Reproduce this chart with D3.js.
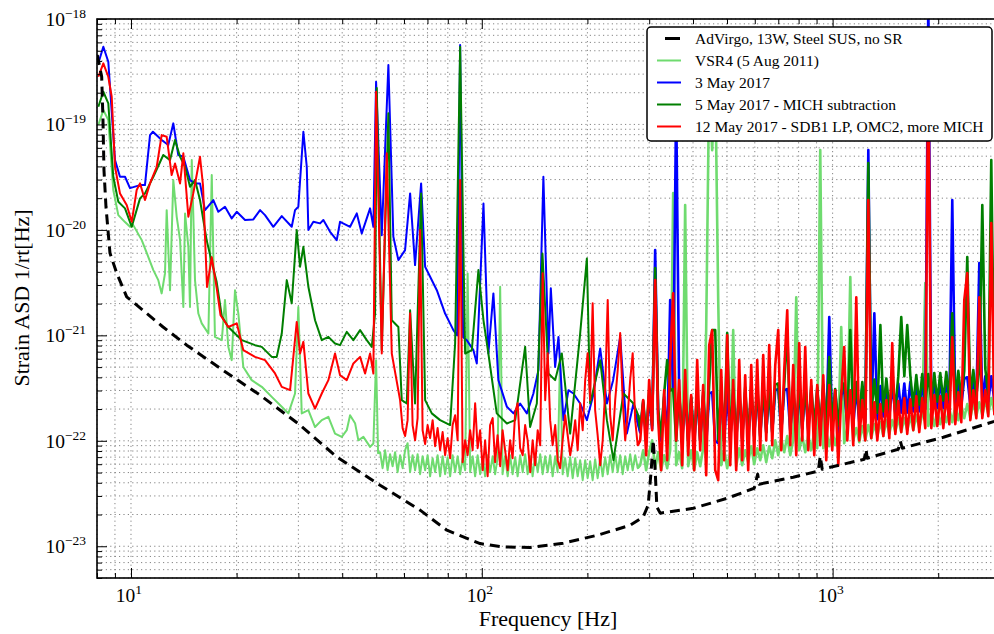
<!DOCTYPE html>
<html>
<head>
<meta charset="utf-8">
<script src="https://cdn.jsdelivr.net/npm/d3@7"></script>
<style>
  body { margin: 0; background: #fff; }
  svg { display: block; }
  text { font-family: "Liberation Serif", "DejaVu Serif", serif; fill: #000; }
</style>
</head>
<body>
<svg id="chart" width="994" height="634"></svg>
<script>
// Strain amplitude spectral densities. ASD values are in units of 1e-22 /sqrt(Hz).
const UNIT = 1e-22;

// AdVirgo design sensitivity (13 W, steel suspensions, no signal recycling): [Hz, ASD]
const advirgo = [[8.015,4553],[8.25,2835],[8.32,1101],[8.375,369],[8.486,165],[8.711,60.3],[9.104,38.9],[9.722,23.2],[10.82,17.3],[12.34,12.0],[14.42,8.07],[17.94,4.88],[23.33,2.71],[30.33,1.41],[38.59,0.704],[51.29,0.379],[66.70,0.220],[79.49,0.142],[98.89,0.106],[115.0,0.0985],[137.3,0.0972],[170.6,0.107],[213.2,0.127],[264.8,0.158],[288.4,0.190],[298.0,0.245],[304.0,0.526],[308.0,1.01],[312.0,0.526],[315.5,0.236],[322.5,0.206],[400.5,0.229],[500.6,0.285],[597.7,0.355],[611.5,0.482],[617.6,0.388],[772.2,0.452],[909.9,0.515],[922.0,0.714],[934.1,0.538],[1199,0.655],[1231,0.669],[1245,0.832],[1255,0.684],[1539,0.832],[1560,0.991],[1579,0.851],[2068,1.08],[2890,1.53],[3003,1.61]];

// Low-frequency part of each measured spectrum (below ~280 Hz): [Hz, ASD]
const vsr4Low = [[8.07,987],[8.34,1369],[8.616,1101],[8.902,239],[9.201,138],[9.614,118.6],[9.934,107],[10.15,111],[10.73,80],[11.20,55.6],[11.58,41.6],[11.96,33.4],[12.23,25.0],[12.50,38.7],[12.64,154],[12.92,26.8],[13.20,297],[13.50,133],[13.80,80],[14.10,18.6],[14.26,143],[14.57,69.1],[14.73,18.6],[14.90,459],[15.05,143],[15.22,33.4],[15.56,16.1],[15.91,13.0],[16.62,10.4],[16.99,331],[17.35,9.67],[18.15,9.0],[18.53,21.6],[18.94,7.78],[19.37,5.82],[19.79,26.8],[20.23,16.1],[20.90,5.02],[22.08,3.76],[23.59,3.25],[25.19,2.61],[26.90,2.10],[28.09,1.82],[29.35,2.81],[29.99,18.6],[30.67,1.82],[32.03,1.95],[33.47,1.35],[34.98,1.57],[36.53,1.69],[38.16,1.17],[39.89,1.09],[41.21,1.26],[42.12,1.75],[43.52,1.47],[44.48,1.01],[45.97,1.09],[48.03,0.875],[49.08,0.943],[49.96,5.82],[50.62,0.763],
  [51.29,0.78],[52.14,0.55],[53.00,0.814],[53.88,0.526],[54.77,0.746],[55.68,0.574],[56.60,0.78],[57.54,0.504],[58.49,0.73],[59.46,0.55],[60.44,0.814],[61.44,0.949],[62.46,0.504],[63.49,0.73],[64.54,0.526],[65.61,0.746],[66.70,0.482],[67.80,0.714],[68.93,0.526],[70.07,0.73],[71.23,0.461],[72.41,0.684],[73.61,0.504],[74.82,0.73],[76.06,0.461],[77.32,0.714],[78.60,0.482],[79.90,0.699],[81.23,0.461],[82.57,0.73],[83.94,0.504],[85.33,0.714],[86.74,0.482],[88.17,0.684],[89.63,0.526],[91.12,38.7],[92.63,0.504],[94.16,0.714],[95.72,0.461],[97.30,0.73],[98.91,0.482],[100.6,0.699],[102.2,0.461],[103.9,0.73],[105.6,0.504],[107.4,0.714],[109.1,0.482],[110.9,0.684],[112.8,28.9],[114.6,0.482],[116.5,0.714],[118.5,0.461],[120.4,0.73],[122.4,0.482],[124.5,0.699],[126.5,0.461],[128.6,0.73],[130.8,0.504],[132.9,0.746],[135.1,0.482],[137.4,0.714],[139.6,0.461],[141.9,0.73],[144.3,0.504],[146.7,0.746],[149.1,0.482],[151.6,0.714],[154.1,0.504],[156.6,0.73],[159.2,0.461],[161.9,0.714],[164.5,0.504],[167.2,6.73],[170.0,0.482],[172.8,0.684],[175.7,0.461],[178.6,0.699],[181.6,0.442],[184.6,0.684],[187.6,0.461],[190.7,0.655],[193.9,0.423],[197.1,0.655],[200.3,0.442],[203.6,0.64],[207.0,0.423],[210.4,0.669],[213.9,0.442],[217.5,0.684],[221.1,0.461],[224.7,0.699],[228.5,0.482],[232.2,0.73],[236.1,0.504],[240.0,0.746],[244.0,0.504],[248.0,0.73],[252.1,0.482],[256.3,0.714],[260.5,0.526],[264.8,0.746],[269.2,0.526],[273.7,0.73],[278.2,0.55]];

const may3Low = [[8.07,3799],[8.34,5461],[8.616,3935],[9.003,459],[9.303,319],[9.614,319],[9.934,249],[10.61,266],[10.96,266],[11.33,793],[11.55,853],[12.23,711],[12.77,638],[13.20,1024],[13.64,513],[14.10,494],[14.73,297],[15.22,276],[15.73,276],[16.25,154],[17.17,192],[17.74,148.5],[18.53,165.7],[19.37,128.5],[20.02,148.5],[21.14,124],[22.32,125.8],[23.33,154],[24.10,138.1],[25.45,107],[26.90,135.2],[28.72,107],[29.35,154],[29.99,165.7],[31.00,853],[31.70,397],[32.03,99.6],[33.10,119.4],[34.59,115.3],[35.35,124],[36.94,95.9],[38.59,80],[39.44,119.4],[42.12,107],[44.02,143.4],[45.48,92.6],[48.03,160],[49.08,107],[49.96,2541],[51.86,89],[54.16,3660],[55.96,86],[57.83,51.7],[60.43,64.3],[62.46,222],[64.52,46.4],[67.14,276],[68.93,44.7],[71.23,35.9],[74.43,26.8],[78.60,16.1],[82.98,11.2],[85.04,10.0],[86.74,5667],[88.45,9.61],[90.63,9.0],[94.65,7.24],[96.77,5.41],[101.1,178],[104.4,6.73],[107.9,25.0],[111.5,3.76],[117.9,2.10],[123.1,1.82],[128.6,2.26],[134.4,1.82],[140.3,2.81],[145.0,4.68],[149.8,319],[154.9,6.73],[157.3,27.9],[161.8,5.02],[165.4,9.67],[170.9,1.57],[176.6,3.02],[182.5,2.81],[190.7,2.26],[199.3,1.57],[207.7,2.71],[217.5,7.51],[227.3,2.26],[236.8,3.76],[248.0,9.67],[259.1,1.17],[270.6,2.26],[277.3,1.57]];

const may5Low = [[8.07,1472],[8.34,2043],[8.616,1586],[8.902,319],[9.201,184.8],[9.614,160],[10.05,107],[10.61,199],[10.96,222],[11.58,319],[12.36,513],[12.92,459],[13.35,711],[13.80,494],[14.26,397],[14.73,256],[15.22,297],[15.73,192],[16.43,80],[16.99,49.5],[17.55,32.0],[18.15,15.2],[18.94,12.0],[19.79,10.4],[20.69,9.0],[22.57,8.07],[23.59,7.78],[25.19,6.25],[26.03,6.25],[26.90,10.4],[27.80,33.4],[28.72,20.1],[29.68,99.6],[30.33,44.7],[31.00,69.1],[32.03,28.9],[33.47,13.9],[34.98,9.0],[36.53,9.67],[38.16,8.38],[39.44,8.07],[41.21,10.8],[43.04,9.0],[44.98,11.2],[47.00,9.0],[48.57,7.78],[49.63,16.1],[50.19,2215],[51.86,7.24],[54.16,1275],[55.38,13.9],[57.83,12.0],[59.13,2.43],[61.10,2.26],[62.46,17.3],[64.52,2.26],[67.14,222],[68.93,2.43],[72.02,1.82],[76.06,1.57],[81.23,1.41],[83.93,8.38],[86.74,5461],[89.62,6.73],[93.66,7.24],[97.79,41.6],[101.1,13.9],[104.4,6.73],[110.3,1.82],[117.9,1.46],[124.5,1.57],[132.9,7.78],[137.3,1.35],[143.5,2.26],[148.9,59.8],[154.9,4.35],[161.8,3.76],[169.1,6.73],[178.6,1.17],[190.7,10.4],[199.3,53.6],[203.6,2.26],[217.5,5.82],[227.3,1.57],[237.3,0.655],[253.3,2.81],[270.6,2.26],[279.1,1.75]];

const may12Low = [[8.07,2835],[8.34,3799],[8.616,2835],[8.811,1831],[9.003,397],[9.303,222],[9.722,172],[10.05,119.4],[10.38,239],[10.61,276],[10.96,192],[11.33,276],[11.84,397],[12.23,793],[12.64,764],[13.06,331],[13.35,427],[13.80,276],[14.10,532],[14.57,133.2],[15.05,222],[15.73,494],[16.04,266],[16.47,28.7],[16.99,55.2],[17.55,28.0],[18.00,15.5],[18.94,12.0],[20.02,13.0],[20.90,7.24],[22.57,6.25],[24.10,5.82],[25.74,4.35],[26.90,3.25],[28.41,3.02],[29.68,13.4],[30.33,6.73],[31.00,8.68],[32.03,2.81],[33.47,2.02],[34.98,2.81],[36.53,3.76],[38.16,6.73],[39.44,4.19],[41.21,3.76],[43.04,5.41],[44.98,6.25],[46.48,4.35],[48.03,6.73],[49.08,4.35],[49.96,2043],[51.86,6.73],[53.59,532],[55.38,6.73],
  [58.49,2.43],[59.46,1.32],[60.44,1.11],[61.44,1.57],[62.46,16.2],[63.49,1.41],[64.54,1.01],[65.61,1.64],[66.70,99.6],[67.80,1.26],[68.93,0.929],[70.07,1.41],[71.23,1.06],[72.41,1.57],[73.61,0.889],[74.82,1.32],[76.06,0.814],[77.32,1.21],[78.60,0.73],[79.90,1.06],[81.23,0.684],[82.57,1.41],[83.94,1.75],[85.33,1.01],[86.74,297],[88.17,0.627],[89.63,1.01],[91.12,0.73],[92.63,1.26],[94.16,0.814],[95.72,2.27],[97.30,0.851],[98.91,1.26],[100.6,0.526],[102.2,1.01],[103.9,0.461],[105.6,1.41],[107.4,1.64],[109.1,0.627],[110.9,1.13],[112.8,0.574],[114.6,1.26],[116.5,0.814],[118.5,0.526],[120.4,1.01],[122.4,0.684],[124.5,1.87],[126.5,2.27],[128.6,0.851],[130.8,0.73],[132.9,1.41],[135.1,1.01],[137.4,0.504],[139.6,1.01],[141.9,0.587],[144.3,1.26],[146.7,0.908],[149.1,38.9],[151.6,2.43],[154.1,6.78],[156.6,1.57],[159.2,0.908],[161.9,1.41],[164.5,0.655],[167.2,0.55],[170.0,1.01],[172.8,1.75],[175.7,1.13],[178.6,0.73],[181.6,1.01],[184.6,1.57],[187.6,0.814],[190.7,2.27],[193.9,1.26],[197.1,3.76],[200.3,6.78],[203.6,2.43],[207.0,20.2],[210.4,1.95],[213.9,1.13],[217.5,0.587],[221.1,1.01],[224.7,3.02],[228.5,21.6],[232.2,1.75],[236.1,1.01],[240.0,2.43],[244.0,4.68],[248.0,10.5],[252.1,2.43],[256.3,1.01],[260.5,1.75],[264.8,3.76],[269.2,6.78],[273.7,1.57],[278.2,0.908]];

// High-frequency part: shared frequency bins (Hz) and ASD of each spectrum in those bins
const hfFreq = [282.8,288.4,294.1,299.9,305.9,312.0,318.2,324.5,331.0,337.6,
  344.3,351.1,358.1,365.2,372.5,379.9,387.5,395.2,403.0,411.1,
  419.3,427.6,436.1,444.8,453.6,462.7,471.9,481.3,490.8,500.6,
  510.6,520.7,531.1,541.7,552.4,563.4,574.6,586.1,597.7,609.6,
  621.8,634.1,646.8,659.6,672.8,686.2,699.8,713.7,727.9,742.4,
  757.2,772.2,787.6,803.2,819.2,835.5,852.2,869.1,886.4,904.0,
  922.0,940.4,959.1,978.2,997.5,1017,1038,1058,1079,1101,
  1123,1145,1168,1191,1215,1239,1264,1289,1315,1341,
  1368,1395,1423,1451,1479,1509,1539,1569,1601,1632,
  1665,1698,1732,1766,1801,1837,1874,1911,1949,1988,
  2027,2068,2109,2151,2193,2237,2282,2327,2373,2420,
  2469,2518,2568,2619,2671,2724,2778,2833,2890,2948];

const vsr4High = [0.587,0.814,0.526,0.78,1.01,0.55,0.78,0.526,0.73,0.55,
  0.814,223,0.587,0.78,0.55,172,0.574,0.814,0.526,0.78,
  0.574,0.851,11.2,2634,571,3277,21.6,0.587,0.814,0.55,
  0.78,11.2,0.574,0.851,0.587,0.814,0.627,0.889,0.60,0.851,
  0.655,0.908,0.627,0.889,0.684,1.01,0.73,1.06,0.78,1.11,
  0.73,1.01,23.0,0.814,1.11,0.78,1.13,0.814,1.21,0.851,
  571,0.851,1.21,0.889,1.26,0.908,1.26,12.0,0.949,1.32,
  35.7,1.01,1.32,0.97,1.38,1.01,1.41,1.06,1.44,1.11,
  1.50,1.11,1.57,1.16,1.57,1.21,1.64,1.21,1.64,1.26,
  1.71,1.26,1.75,1.32,1.79,31.3,1.38,1.87,1.38,1.95,
  1.44,1.95,1.50,2.04,1.50,2.13,1.57,2.18,1.64,2.23,
  1.64,2.32,1.71,2.32,1.75,2.43,1.79,2.54,1.87,2.54];

const may3High = [1.2,2.3,1.0,2.7,1.3,64.3,1.8,1.0,2.6,1.0,
  21.6,3.0,1703,2.8,0.95,2.8,1.0,2.5,0.9,2.8,
  1.0,2.7,0.9,2.8,2.9,1.0,0.95,2.8,1.0,2.9,
  1.0,2.8,1.0,2.9,1.05,2.9,1.0,2.9,1.1,3.0,
  1.1,3.0,1.2,3.0,1.2,3.0,3.1,1.2,3.0,3.1,
  1.25,3.0,1.2,3.1,1.3,3.1,1.25,3.0,1.2,3.0,
  1.3,3.1,1.2,14.9,1.3,3.0,1.2,2.7,3.1,1.4,
  3.0,1.4,3.2,1.5,3.2,1.5,571,1.55,16.2,1.6,
  3.3,1.7,3.4,1.7,3.4,1.8,3.5,1.85,3.5,1.85,
  3.6,1.9,3.6,1.9,3.6,2.0,15000,2.0,3.7,2.05,
  3.7,2.05,3.8,2.1,192,2.1,3.9,2.15,3.9,4.0,
  2.2,4.0,2.25,48.4,2.3,4.1,2.35,4.1,2.4,4.2];

const may5High = [1.3,2.4,1.1,3.0,1.4,43.4,2.0,1.1,2.8,5.82,
  3.0,3.1,1.0,2.9,1.0,3.0,1.0,2.6,0.95,3.0,
  1.0,2.9,0.95,3.4,11.2,11.2,1.0,3.0,1.0,10.5,
  1.0,3.1,1.0,3.2,1.05,3.2,1.05,3.3,1.1,3.4,
  1.1,3.4,1.2,3.4,1.2,3.4,3.5,1.2,3.4,11.2,
  1.25,3.3,1.25,3.4,1.3,3.4,1.3,3.3,1.3,3.2,
  1.35,3.4,1.3,6.21,1.4,3.1,1.4,2.9,3.5,1.5,
  11.2,1.6,3.6,1.7,3.6,1.75,430,1.8,3.8,1.85,
  12.5,1.9,3.9,1.95,4.0,2.0,4.1,14.9,4.1,12.5,
  4.2,2.15,4.2,2.2,4.3,2.3,4.3,2.3,4.4,2.35,
  4.4,2.4,4.5,2.45,16.2,2.5,4.6,2.5,4.6,55.2,
  2.6,4.7,2.65,4.8,172,4.8,2.75,459,2.8,5.0];

const may12High = [1.01,2.43,0.73,3.76,1.26,33.4,1.57,0.526,3.02,0.655,
  5.82,25.1,1.01,3.76,0.587,4.68,0.73,2.71,0.526,5.82,
  0.814,3.37,0.472,8.07,11.2,0.526,0.423,4.68,0.655,10.0,
  0.587,3.76,0.526,5.82,0.655,4.19,0.526,5.22,0.73,5.82,
  0.814,6.49,1.01,8.07,0.908,5.22,11.2,0.814,4.68,17.3,
  0.908,5.22,0.73,8.43,1.01,7.73,0.814,3.76,0.73,3.37,
  0.908,4.19,0.655,3.37,0.814,3.02,0.587,2.71,7.73,1.01,
  3.02,0.908,23.0,1.01,2.43,1.01,192,1.06,2.32,1.01,
  2.23,1.11,2.43,1.06,8.43,1.16,2.38,1.21,2.54,1.16,
  2.48,1.26,2.65,1.21,2.54,1.32,4076,1.32,2.71,1.38,
  2.65,1.32,2.77,1.44,9.61,1.44,2.89,1.50,21.6,38.9,
  1.57,3.02,1.64,23.0,1.64,3.02,1.71,116,1.79,3.16];

// Axis ticks
const xMajorTicks = [10, 100, 1000];
const xMinorTicks = [8, 9, 20, 30, 40, 50, 60, 70, 80, 90, 200, 300, 400, 500, 600, 700, 800, 900, 2000, 3000];
const xTickExps = ["1", "2", "3"];
const yMajorTicks = [1e-18, 1e-19, 1e-20, 1e-21, 1e-22, 1e-23];
const yMinorTicks = [5e-24, 6e-24, 7e-24, 8e-24, 9e-24,
  2e-23, 3e-23, 4e-23, 5e-23, 6e-23, 7e-23, 8e-23, 9e-23,
  2e-22, 3e-22, 4e-22, 5e-22, 6e-22, 7e-22, 8e-22, 9e-22,
  2e-21, 3e-21, 4e-21, 5e-21, 6e-21, 7e-21, 8e-21, 9e-21,
  2e-20, 3e-20, 4e-20, 5e-20, 6e-20, 7e-20, 8e-20, 9e-20,
  2e-19, 3e-19, 4e-19, 5e-19, 6e-19, 7e-19, 8e-19, 9e-19];
const yTickExps = ["\u221218", "\u221219", "\u221220", "\u221221", "\u221222", "\u221223"];

const legendLabels = ["AdVirgo, 13W, Steel SUS, no SR", "VSR4 (5 Aug 2011)", "3 May 2017",
  "5 May 2017 - MICH subtraction", "12 May 2017 - SDB1 LP, OMC2, more MICH"];
const seriesColors = ["#000000", "#6fdb6f", "#0000ff", "#007f00", "#ff0000"];

// ---- layout & scales ----
const plot = { left: 97, right: 1000, top: 19, bottom: 578 };
const svg = d3.select("#chart");
const x = d3.scaleLog().domain([8, 3000]).range([plot.left, plot.right]);
const y = d3.scaleLog().domain([5e-24, 1e-18]).range([plot.bottom, plot.top]);

svg.append("defs").append("clipPath").attr("id", "plot-clip")
  .append("rect").attr("x", plot.left).attr("y", plot.top)
  .attr("width", plot.right - plot.left).attr("height", plot.bottom - plot.top);

// ---- dotted grid (major + minor) ----
const grid = svg.append("g").attr("class", "grid")
  .attr("stroke", "#333").attr("stroke-width", 0.8)
  .attr("stroke-dasharray", "1.2,3.2").attr("opacity", 0.75);
grid.selectAll("line.gx").data(xMajorTicks.concat(xMinorTicks)).join("line")
  .attr("x1", d => x(d)).attr("x2", d => x(d))
  .attr("y1", plot.top).attr("y2", plot.bottom);
grid.selectAll("line.gy").data(yMajorTicks.concat(yMinorTicks)).join("line")
  .attr("class", "gy")
  .attr("x1", plot.left).attr("x2", plot.right)
  .attr("y1", d => y(d)).attr("y2", d => y(d));

// ---- spectra ----
const line = d3.line().x(d => x(d[0])).y(d => y(d[1] * UNIT));

const curves = svg.append("g").attr("clip-path", "url(#plot-clip)")
  .attr("fill", "none").attr("stroke-linejoin", "round");

const measured = [
  { low: vsr4Low, high: vsr4High, color: seriesColors[1] },
  { low: may3Low, high: may3High, color: seriesColors[2] },
  { low: may5Low, high: may5High, color: seriesColors[3] },
  { low: may12Low, high: may12High, color: seriesColors[4] }
];
measured.forEach(s => {
  const highPts = hfFreq.map((f, i) => [f, s.high[i]]);
  // low band, then the dense high-frequency band drawn slightly heavier
  curves.append("path").datum(s.low.concat([highPts[0]]))
    .attr("d", line).attr("stroke", s.color).attr("stroke-width", 2);
  curves.append("path").datum([s.low[s.low.length - 1]].concat(highPts))
    .attr("d", line).attr("stroke", s.color).attr("stroke-width", 2.6);
});
curves.append("path").datum(advirgo)
  .attr("d", line).attr("stroke", seriesColors[0])
  .attr("stroke-width", 3).attr("stroke-dasharray", "10,6");

// ---- axes: inward major/minor ticks on left, bottom and top ----
function tickAxis(axis, values, size, transform) {
  const g = svg.append("g").attr("transform", transform)
    .call(axis.tickValues(values).tickSize(size).tickSizeOuter(0).tickFormat(""));
  g.select(".domain").remove();
  g.selectAll(".tick line").attr("stroke", "#000").attr("stroke-width", 1);
  return g;
}
tickAxis(d3.axisLeft(y), yMajorTicks, -10, `translate(${plot.left},0)`);
tickAxis(d3.axisLeft(y), yMinorTicks, -5, `translate(${plot.left},0)`);
tickAxis(d3.axisBottom(x), xMajorTicks, -10, `translate(0,${plot.bottom})`);
tickAxis(d3.axisBottom(x), xMinorTicks, -5, `translate(0,${plot.bottom})`);
tickAxis(d3.axisTop(x), xMajorTicks, -10, `translate(0,${plot.top})`);
tickAxis(d3.axisTop(x), xMinorTicks, -5, `translate(0,${plot.top})`);

// frame
svg.append("rect").attr("x", plot.left).attr("y", plot.top)
  .attr("width", plot.right - plot.left).attr("height", plot.bottom - plot.top)
  .attr("fill", "none").attr("stroke", "#000").attr("stroke-width", 1.6);

// tick labels as powers of ten
const yLab = svg.append("g");
yMajorTicks.forEach((v, i) => {
  const t = yLab.append("text").attr("x", 86).attr("y", y(v) + 7)
    .attr("text-anchor", "end").attr("font-size", 19.5);
  t.append("tspan").text("10");
  t.append("tspan").attr("dy", -8).attr("font-size", 13.5).text(yTickExps[i]);
});
const xLab = svg.append("g");
xMajorTicks.forEach((v, i) => {
  const t = xLab.append("text").attr("x", x(v) - 2).attr("y", 602)
    .attr("text-anchor", "middle").attr("font-size", 19.5);
  t.append("tspan").text("10");
  t.append("tspan").attr("dy", -8).attr("font-size", 13.5).text(xTickExps[i]);
});

// axis titles
svg.append("text").attr("x", 548).attr("y", 626).attr("text-anchor", "middle")
  .attr("font-size", 22).text("Frequency [Hz]");
svg.append("text").attr("transform", "translate(29,298) rotate(-90)")
  .attr("text-anchor", "middle").attr("font-size", 22).text("Strain ASD 1/rt[Hz]");

// ---- legend ----
const legend = svg.append("g");
legend.append("rect").attr("x", 647).attr("y", 27).attr("width", 345).attr("height", 114)
  .attr("rx", 4).attr("fill", "#fff").attr("stroke", "#000").attr("stroke-width", 1.5);
legendLabels.forEach((label, i) => {
  const cy = 38.5 + i * 22;
  if (i === 0) {
    legend.append("line").attr("x1", 665).attr("x2", 680).attr("y1", cy).attr("y2", cy)
      .attr("stroke", seriesColors[i]).attr("stroke-width", 3);
  } else {
    legend.append("line").attr("x1", 657).attr("x2", 681).attr("y1", cy).attr("y2", cy)
      .attr("stroke", seriesColors[i]).attr("stroke-width", 2);
  }
  legend.append("text").attr("x", 695).attr("y", cy + 5.5)
    .attr("font-size", 15.5).text(label);
});
</script>
</body>
</html>
